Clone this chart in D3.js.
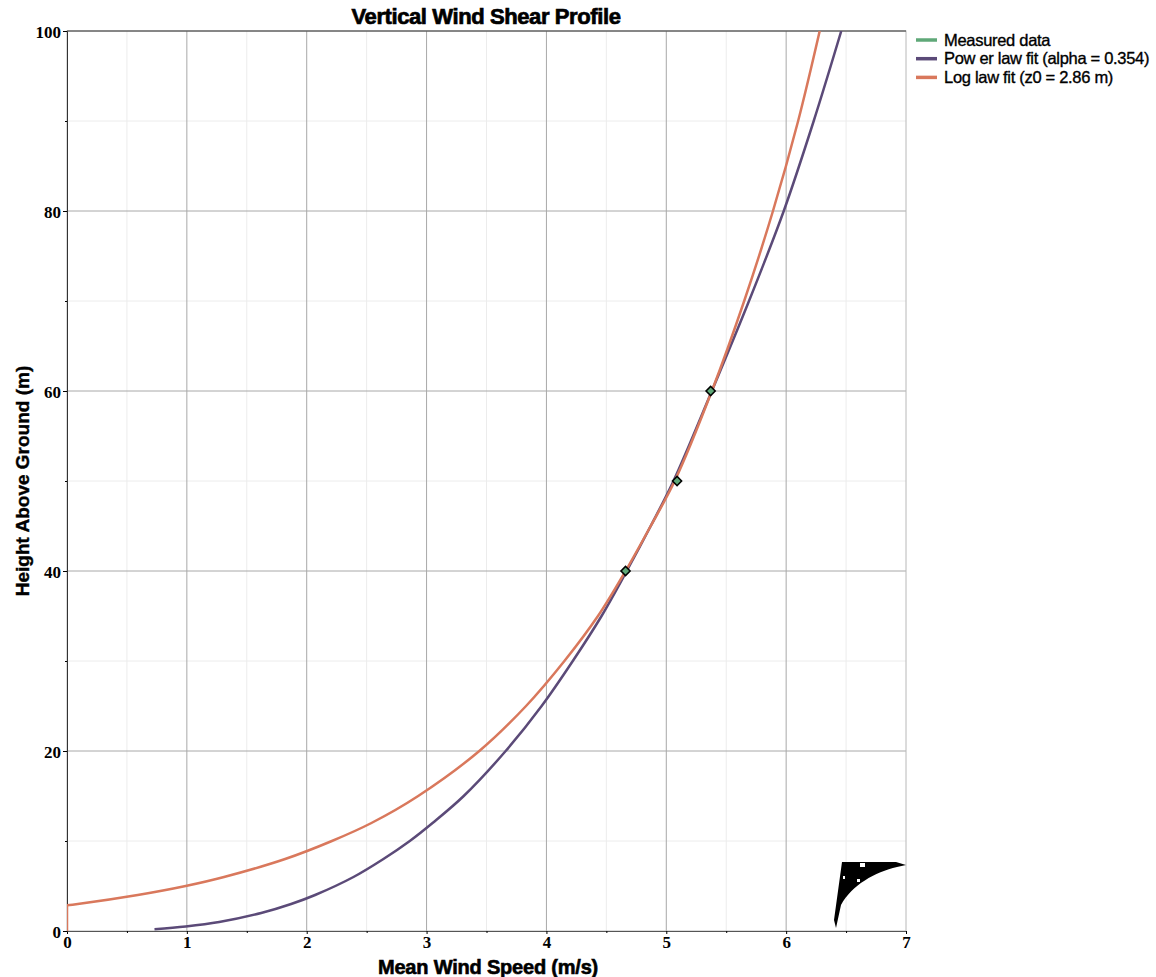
<html>
<head>
    <title>Vertical Wind Shear Profile</title>
    <script src="https://cdn.jsdelivr.net/npm/d3@7"></script>
    <style type="text/css">
        body { margin: 0; background: #fff; }
        .tick text { font-family: "Liberation Serif", serif; font-weight: bold; font-size: 17px; fill: #000; }
    </style>
</head>
<body>
    <script>
        // measured points (speed m/s, height m)
        var measuredSpeed = [4.66, 5.09, 5.37];
        var measuredHeight = [40, 50, 60];

        // power law fit curve
        var powerHeight = [0.2, 0.5, 1, 2, 3, 4, 6, 8, 10, 12, 15, 20, 25, 30, 35, 40, 45, 50, 60, 70, 80, 90, 100];
        var powerSpeed = [0.73, 0.99, 1.27, 1.62, 1.87, 2.07, 2.39, 2.64, 2.86, 3.05, 3.31, 3.66, 3.96, 4.22, 4.46, 4.67, 4.87, 5.06, 5.38, 5.69, 5.98, 6.23, 6.46];

        // log law fit curve
        var logHeight = [0, 2.86, 3, 4, 5, 6, 8, 10, 12, 15, 20, 25, 30, 35, 40, 45, 50, 60, 70, 80, 90, 100];
        var logSpeed = [0, 0, 0.09, 0.59, 0.99, 1.31, 1.82, 2.21, 2.54, 2.93, 3.44, 3.83, 4.15, 4.43, 4.66, 4.87, 5.07, 5.38, 5.65, 5.89, 6.10, 6.28];

        var xTicks = [0, 1, 2, 3, 4, 5, 6, 7];
        var yTicks = [0, 20, 40, 60, 80, 100];
        var legendLabels = ["Measured data", "Pow er law  fit (alpha = 0.354)", "Log law  fit (z0 = 2.86 m)"];
        var legendColors = ["#5fa878", "#5b4a78", "#d9785c"];

        var w = 1156, h = 977;
        var pLeft = 67, pRight = 906, pTop = 31, pBottom = 931;

        var svg = d3.select("body").append("svg")
            .attr("width", w)
            .attr("height", h);

        var x = d3.scaleLinear().domain([0, 7]).range([pLeft, pRight]);
        var y = d3.scaleLinear().domain([0, 100]).range([pBottom, pTop]);

        // minor grid
        svg.append("g").selectAll("line")
            .data(d3.range(0.5, 7, 1))
            .enter().append("line")
            .attr("x1", function(d) { return x(d); })
            .attr("x2", function(d) { return x(d); })
            .attr("y1", pTop).attr("y2", pBottom)
            .attr("stroke", "#ececec");
        svg.append("g").selectAll("line")
            .data(d3.range(10, 100, 20))
            .enter().append("line")
            .attr("y1", function(d) { return y(d); })
            .attr("y2", function(d) { return y(d); })
            .attr("x1", pLeft).attr("x2", pRight)
            .attr("stroke", "#ececec");

        // major grid
        svg.append("g").selectAll("line")
            .data(xTicks.slice(1, -1))
            .enter().append("line")
            .attr("x1", function(d) { return x(d); })
            .attr("x2", function(d) { return x(d); })
            .attr("y1", pTop).attr("y2", pBottom)
            .attr("stroke", "#a8a8a8");
        svg.append("g").selectAll("line")
            .data(yTicks.slice(1, -1))
            .enter().append("line")
            .attr("y1", function(d) { return y(d); })
            .attr("y2", function(d) { return y(d); })
            .attr("x1", pLeft).attr("x2", pRight)
            .attr("stroke", "#a8a8a8");

        // frame
        svg.append("rect")
            .attr("x", pLeft).attr("y", pTop)
            .attr("width", pRight - pLeft).attr("height", pBottom - pTop)
            .attr("fill", "none")
            .attr("stroke", "#b8b8b8");
        svg.append("line")
            .attr("x1", pLeft).attr("x2", pRight).attr("y1", pTop).attr("y2", pTop)
            .attr("stroke", "#333");

        // axes
        var xAxis = svg.append("g")
            .attr("transform", "translate(0," + pBottom + ")")
            .call(d3.axisBottom(x).tickValues(xTicks).tickSize(3).tickPadding(2).tickFormat(d3.format("d")));
        xAxis.select(".domain").attr("stroke", "#555");
        svg.append("g")
            .attr("transform", "translate(0," + pBottom + ")")
            .call(d3.axisBottom(x).tickValues(d3.range(0.5, 7, 1)).tickSize(2).tickFormat(""))
            .select(".domain").remove();

        var yAxis = svg.append("g")
            .attr("transform", "translate(" + pLeft + ",0)")
            .call(d3.axisLeft(y).tickValues(yTicks).tickSize(4).tickPadding(2));
        yAxis.select(".domain").attr("stroke", "#333");
        yAxis.selectAll(".tick text").attr("dy", "0.36em");
        svg.append("g")
            .attr("transform", "translate(" + pLeft + ",0)")
            .call(d3.axisLeft(y).tickValues(d3.range(10, 100, 20)).tickSize(2).tickFormat(""))
            .select(".domain").remove();

        // curves
        svg.append("clipPath").attr("id", "plotclip")
            .append("rect").attr("x", pLeft).attr("y", pTop)
            .attr("width", pRight - pLeft).attr("height", pBottom - pTop + 2);

        var line = d3.line()
            .x(function(d) { return x(d[0]); })
            .y(function(d) { return y(d[1]); })
            .curve(d3.curveCatmullRom.alpha(0.5));

        svg.append("path")
            .datum(d3.zip(powerSpeed, powerHeight))
            .attr("d", line)
            .attr("clip-path", "url(#plotclip)")
            .attr("fill", "none")
            .attr("stroke", legendColors[1])
            .attr("stroke-width", 2.5);

        // log curve: straight riser at 0 m/s, then the curve
        var logPts = d3.zip(logSpeed, logHeight);
        svg.append("path")
            .attr("d", "M" + x(logPts[0][0]) + "," + y(logPts[0][1]) + line(logPts.slice(1)).replace(/^M/, "L"))
            .attr("clip-path", "url(#plotclip)")
            .attr("fill", "none")
            .attr("stroke", legendColors[2])
            .attr("stroke-width", 2.5);

        // measured markers
        var sym = d3.symbol().type(d3.symbolSquare).size(42);
        svg.append("g").selectAll("path")
            .data(d3.zip(measuredSpeed, measuredHeight))
            .enter().append("path")
            .attr("d", sym)
            .attr("transform", function(d) { return "translate(" + x(d[0]) + "," + y(d[1]) + ") rotate(45)"; })
            .attr("fill", legendColors[0])
            .attr("stroke", "#000")
            .attr("stroke-width", 1.5);

        // logo blob in corner
        svg.append("path")
            .attr("d", "M842,862 L896,862 L906,865 L897,867 C875,872 852,885 841,905 L836,928 L834,920 Z")
            .attr("fill", "#000");
        svg.append("rect").attr("x", 860).attr("y", 863).attr("width", 5).attr("height", 4).attr("fill", "#fff");
        svg.append("rect").attr("x", 857).attr("y", 879).attr("width", 3).attr("height", 3).attr("fill", "#fff");
        svg.append("rect").attr("x", 843).attr("y", 876).attr("width", 2).attr("height", 3).attr("fill", "#fff");

        // title and labels
        svg.append("text")
            .attr("x", 486).attr("y", 24)
            .attr("text-anchor", "middle")
            .attr("font-family", "Liberation Sans, Arial, sans-serif")
            .attr("font-weight", "bold")
            .attr("font-size", "22px")
            .attr("stroke", "#000").attr("stroke-width", 0.7)
            .attr("letter-spacing", "-0.4px")
            .text("Vertical Wind Shear Profile");

        svg.append("text")
            .attr("x", 488).attr("y", 974)
            .attr("text-anchor", "middle")
            .attr("font-family", "Liberation Sans, Arial, sans-serif")
            .attr("font-weight", "bold")
            .attr("font-size", "20px")
            .attr("stroke", "#000").attr("stroke-width", 0.6)
            .attr("letter-spacing", "-0.2px")
            .text("Mean Wind Speed (m/s)");

        svg.append("text")
            .attr("transform", "translate(29,481) rotate(-90)")
            .attr("text-anchor", "middle")
            .attr("font-family", "Liberation Sans, Arial, sans-serif")
            .attr("font-weight", "bold")
            .attr("font-size", "19px")
            .attr("stroke", "#000").attr("stroke-width", 0.4)
            .text("Height Above Ground (m)");

        // legend
        var legend = svg.append("g").selectAll("g")
            .data(legendLabels)
            .enter().append("g")
            .attr("transform", function(d, i) { return "translate(916," + (40 + i * 18.7) + ")"; });
        legend.append("line")
            .attr("x1", 0).attr("x2", 21)
            .attr("stroke", function(d, i) { return legendColors[i]; })
            .attr("stroke-width", 3.5);
        legend.append("text")
            .attr("x", 28).attr("dy", "0.35em")
            .attr("font-family", "Liberation Sans, Arial, sans-serif")
            .attr("font-size", "16.5px")
            .attr("stroke", "#000").attr("stroke-width", 0.35)
            .attr("letter-spacing", "-0.3px")
            .text(function(d) { return d; });
    </script>
</body>
</html>
